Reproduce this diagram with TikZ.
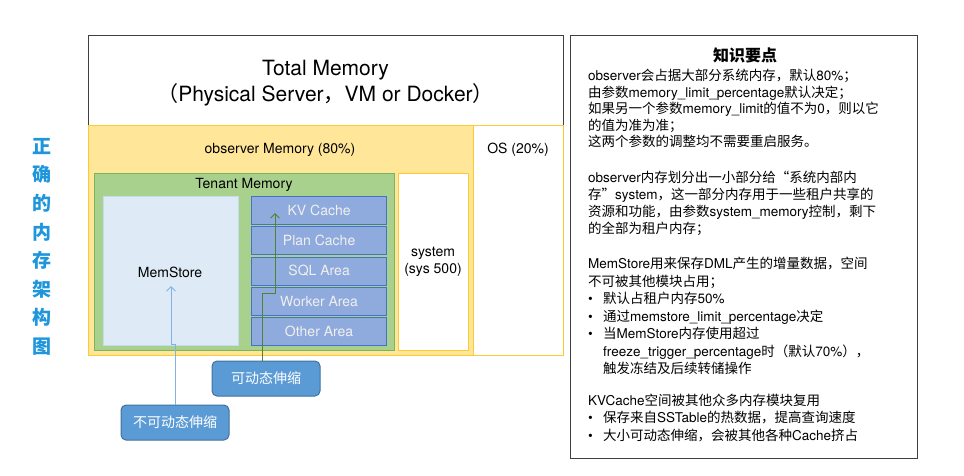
\documentclass[tikz,border=0pt]{standalone}
\usepackage{fontspec}
\setmainfont{TeX Gyre Heros}
\newfontfamily\latfont{TeX Gyre Heros}
\newfontfamily\cjkfont{Noto Sans CJK SC}
\usetikzlibrary{calc, positioning}
\usetikzlibrary{arrows.meta}

% CJK runs switch to the CJK font by themselves
\newXeTeXintercharclass\cjkcls
\newcount\cjkc
\def\setcjkrange#1#2{\cjkc=#1\relax
  \loop\XeTeXcharclass\cjkc=\cjkcls\relax
  \ifnum\cjkc<#2\relax\advance\cjkc by 1\relax\repeat}
\setcjkrange{"3000}{"303F}
\setcjkrange{"4E00}{"9FFF}
\setcjkrange{"FF00}{"FFEF}
\setcjkrange{"201C}{"201D}
\XeTeXinterchartokenstate=1
\XeTeXinterchartoks 0 \cjkcls = {\cjkfont}
\XeTeXinterchartoks 4095 \cjkcls = {\cjkfont}
\XeTeXinterchartoks \cjkcls 0 = {\latfont}
\XeTeXinterchartoks \cjkcls 4095 = {\latfont}

\definecolor{framegray}{HTML}{404040}
\definecolor{obsfill}{HTML}{FFE699}
\definecolor{obsline}{HTML}{FFC933}
\definecolor{tenfill}{HTML}{A9D18E}
\definecolor{tenline}{HTML}{7DB35A}
\definecolor{msfill}{HTML}{DEEBF7}
\definecolor{msline}{HTML}{C5DBF0}
\definecolor{areafill}{HTML}{8FAADC}
\definecolor{arealine}{HTML}{4472C4}
\definecolor{btnfill}{HTML}{5B9BD5}
\definecolor{btnline}{HTML}{41719C}
\definecolor{dynarrow}{HTML}{548235}
\definecolor{fixarrow}{HTML}{7FB2E5}
\definecolor{titleblue}{HTML}{1E96DC}

\begin{document}
\begin{tikzpicture}[x=1pt, y=-1pt,
  blk/.style={inner sep=0pt, anchor=north west, line width=1.2pt},
  frame/.style={blk, draw=framegray, fill=white},
  yellowbox/.style={blk, draw=obsline},
  area/.style={blk, draw=arealine, fill=areafill, text=white!94!black,
    minimum width=135pt, minimum height=28pt, font=\fontsize{14}{16}\selectfont},
  lbl/.style={inner sep=0pt, align=center, font=\fontsize{14}{17.5}\selectfont},
  btn/.style={draw=btnline, fill=btnfill, line width=1pt, rounded corners=5pt,
    minimum width=108pt, minimum height=35pt, text=white,
    font=\fontsize{14}{16}\selectfont},
  para/.style={inner sep=0pt, anchor=north west, align=left},
  tip/.style={-{Straight Barb[length=4.5pt, width=9pt]}, line width=1pt}
]
\useasboundingbox (0,0) rectangle (964,475);

% memory layout
\node[frame, minimum width=475pt, minimum height=320pt] (total) at (88,35) {};
\node[lbl, font=\fontsize{21}{26}\selectfont] (totaltxt) at (325.5,83.5)
  {Total Memory\\（Physical Server，VM or Docker）};
\node[yellowbox, fill=obsfill, minimum width=385pt, minimum height=230pt] (obs) at (88,125) {};
\node[yellowbox, fill=white, minimum width=90pt, minimum height=230pt] (os) at (473,125) {};
\node[lbl] (obstxt) at (280,150) {observer Memory (80\%)};
\node[lbl] (ostxt) at (518,150) {OS (20\%)};

\node[blk, draw=tenline, fill=tenfill, minimum width=300pt, minimum height=177pt] (tenant) at (94,173) {};
\node[lbl] (tenanttxt) at (244,185) {Tenant Memory};
\node[yellowbox, fill=white, minimum width=70pt, minimum height=177pt] (system) at (398,173) {};
\node[lbl] (systemtxt) at (433,262) {system\\(sys 500)};

\node[blk, draw=msline, fill=msfill, minimum width=135pt, minimum height=149pt] (memstore) at (103,196) {};
\node[lbl] (memstoretxt) at (170,272) {MemStore};

\foreach \name/\txt [count=\i from 0] in {kv/KV Cache, plan/Plan Cache, sql/SQL Area,
    worker/Worker Area, other/Other Area}
  \node[area] (\name) at (251,196+\i*30.25) {\txt};

% resize hints
\node[btn] (dyn) at (266,378.5) {可动态伸缩};
\node[btn] (fixed) at (175,422.5) {不可动态伸缩};
\coordinate (dynbend) at (275,293);
\coordinate (kvtip) at (275,213);
\coordinate (msbend) at (171,344);
\coordinate (mstip) at (171,286);
\draw[tip, dynarrow] ([xshift=-4pt]dyn.north) |- (dynbend) -- (kvtip);
\draw[tip, fixarrow] (fixed.north) |- (msbend) -- (mstip);

\node[inner sep=0pt, anchor=north, align=center, text=titleblue,
  font=\bfseries\fontsize{19}{28.6}\selectfont] (vtitle) at (42,138)
  {正\\确\\的\\内\\存\\架\\构\\图};

% notes
\node[frame, minimum width=347pt, minimum height=423pt] (notes) at (570,35) {};
\node[inner sep=0pt, font=\bfseries\fontsize{16}{18}\selectfont] (notestitle) at (745,55) {知识要点};
\node[para, font=\fontsize{13.5}{16.5}\selectfont] (para1) at (588,69)
  {observer会占据大部分系统内存，默认80\%；\\
   由参数memory\_limit\_percentage默认决定；\\
   如果另一个参数memory\_limit的值不为0，则以它\\
   的值为准为准；\\
   这两个参数的调整均不需要重启服务。};
\node[para, font=\fontsize{13.5}{16.8}\selectfont] (para2) at (588,171)
  {observer内存划分出一小部分给“系统内部内\\
   存”system，这一部分内存用于一些租户共享的\\
   资源和功能，由参数system\_memory控制，剩下\\
   的全部为租户内存；};
\node[para, font=\fontsize{13.5}{17.5}\selectfont] (para3) at (588,257)
  {MemStore用来保存DML产生的增量数据，空间\\
   不可被其他模块占用；\\
   \makebox[15pt][l]{\textbullet}默认占租户内存50\%\\
   \makebox[15pt][l]{\textbullet}通过memstore\_limit\_percentage决定\\
   \makebox[15pt][l]{\textbullet}当MemStore内存使用超过\\
   \hspace*{15pt}freeze\_trigger\_percentage时（默认70\%），\\
   \hspace*{15pt}触发冻结及后续转储操作};
\node[para, font=\fontsize{13.5}{17.8}\selectfont] (para4) at (588,393.5)
  {KVCache空间被其他众多内存模块复用\\
   \makebox[15pt][l]{\textbullet}保存来自SSTable的热数据，提高查询速度\\
   \makebox[15pt][l]{\textbullet}大小可动态伸缩，会被其他各种Cache挤占};
\end{tikzpicture}
\end{document}
